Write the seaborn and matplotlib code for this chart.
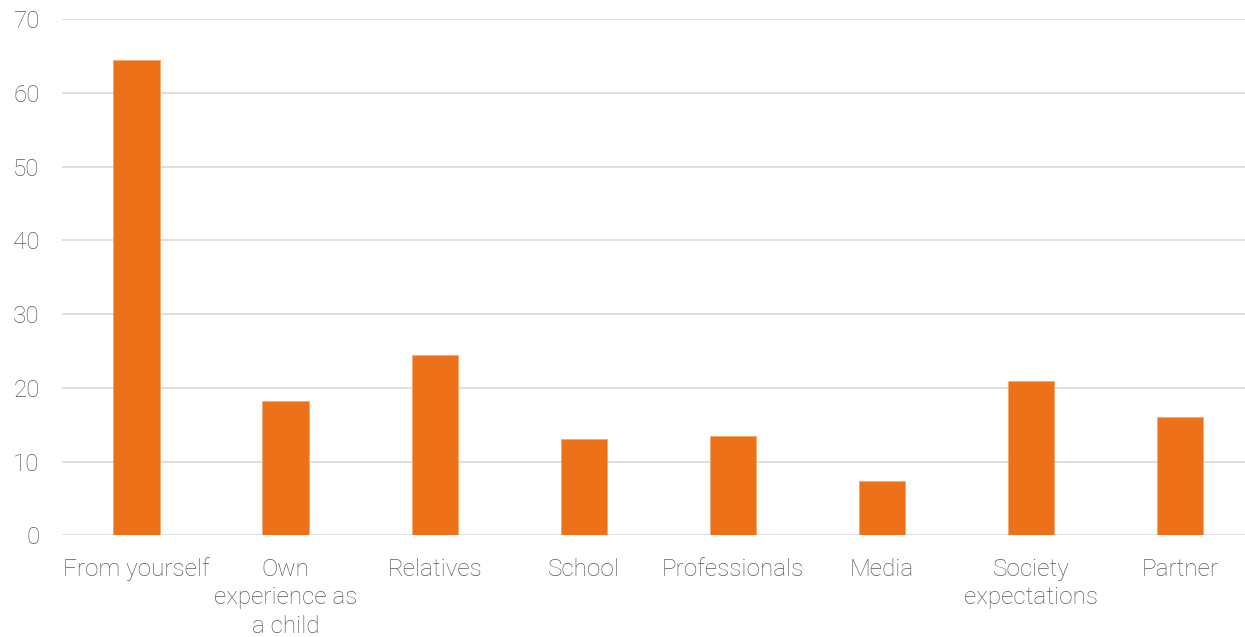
import matplotlib
matplotlib.use("Agg")
import matplotlib.pyplot as plt
import seaborn as sns
import pandas as pd

categories = ["From yourself", "Own\nexperience as\na child", "Relatives", "School",
              "Professionals", "Media", "Society\nexpectations", "Partner"]
values = [64.4, 18.2, 24.4, 13.0, 13.4, 7.4, 20.9, 16.0]
yticks = [0, 10, 20, 30, 40, 50, 60, 70]

sns.set_theme(style="white")
plt.rcParams["font.family"] = ["Roboto", "DejaVu Sans"]

W, H = 1245, 637
fig = plt.figure(figsize=(W / 100, H / 100), dpi=100)
left, right = 62, 1254.5
bottom, top = 637 - 535.3, 637 - 19
ax = fig.add_axes([left / W, bottom / H, (right - left) / W, (top - bottom) / H])

df = pd.DataFrame({"source": categories, "value": values})
sns.barplot(data=df, x="source", y="value", color="#EC7118", width=0.31,
            saturation=1, edgecolor="#F4A66E", linewidth=0.6, ax=ax, zorder=3)

ax.set_ylim(0, 70)
ax.set_yticks(yticks)
ax.set_xlim(-0.5, len(categories) - 0.5)
ax.grid(axis="y", color="#D9D9D9", linewidth=1.2, zorder=0)
ax.set_axisbelow(True)
for s in ax.spines.values():
    s.set_visible(False)
ax.set_xlabel("")
ax.set_ylabel("")
ax.tick_params(axis="both", length=0, labelsize=17.5, labelcolor="#595959")
ax.tick_params(axis="y", pad=16)
ax.tick_params(axis="x", pad=16)
for lbl in ax.get_xticklabels() + ax.get_yticklabels():
    lbl.set_fontweight("light")
for lbl in ax.get_xticklabels():
    lbl.set_linespacing(1.33)

fig.savefig("out.png", dpi=100)
